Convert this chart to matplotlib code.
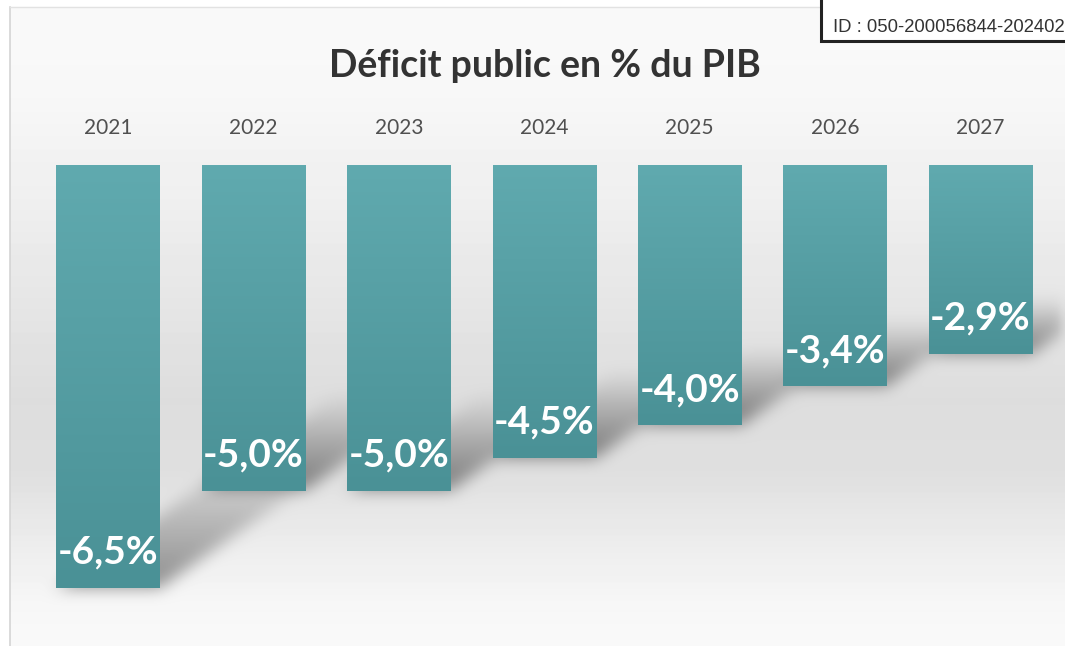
import numpy as np
import matplotlib
matplotlib.use("Agg")
import matplotlib.pyplot as plt
from matplotlib.patches import Rectangle
from matplotlib.lines import Line2D

years = ["2021", "2022", "2023", "2024", "2025", "2026", "2027"]
deficit = [-6.5, -5.0, -5.0, -4.5, -4.0, -3.4, -2.9]
labels = ["-6,5%", "-5,0%", "-5,0%", "-4,5%", "-4,0%", "-3,4%", "-2,9%"]
title = "Déficit public en % du PIB"
doc_id = "ID : 050-200056844-202402"

W, H = 1065, 646
bar_w = 0.71
font = ["Lato", "DejaVu Sans"]

fig = plt.figure(figsize=(W / 100, H / 100), dpi=100)
ax = fig.add_axes([0, 0, 1, 1])

# axes fill the figure: one category = 145.4 px, one percent point = 65.1 px
x0_px, step_px = 108, 145.4
y0_px, unit_px = 165, 65.1
xlim = (-x0_px / step_px, (W - x0_px) / step_px)
ylim = (-(H - y0_px) / unit_px, y0_px / unit_px)
ax.set_xlim(*xlim)
ax.set_ylim(*ylim)
ax.axis("off")

# background: soft grey band behind the bars
rows = np.arange(H)
bg = np.interp(rows, [0, 100, 200, 300, 400, 470, 540, 600, 646],
               [250, 247, 239, 230, 221, 223, 236, 246, 250]) / 255.0
img = np.repeat(bg[:, None], W, axis=1)

# slanted shadow cast by every bar, then blurred
gx = np.linspace(xlim[0], xlim[1], W)
gy = np.linspace(ylim[1], ylim[0], H)
GX, GY = np.meshgrid(gx, gy)
shade = np.zeros((H, W))
for i, v in enumerate(deficit):
    dy = 0.30 * abs(v)
    dx = 0.19 * abs(v)
    t = (GY - v) / dy
    xs = GX - t * dx
    inside = (t >= 0) & (t <= 1) & (xs >= i - bar_w / 2) & (xs <= i + bar_w / 2)
    shade = np.maximum(shade, np.where(inside, 1 - t, 0.0))


def box_blur(a, r):
    k = np.ones(2 * r + 1) / (2 * r + 1)
    a = np.apply_along_axis(lambda m: np.convolve(m, k, mode="same"), 1, a)
    return np.apply_along_axis(lambda m: np.convolve(m, k, mode="same"), 0, a)


for _ in range(3):
    shade = box_blur(shade, 7)
img = np.clip(img - 0.40 * shade, 0, 1)
img[:, :10] = 1.0
img[:7, :] = 1.0
ax.imshow(img, cmap="gray", vmin=0, vmax=1, aspect="auto",
          extent=(xlim[0], xlim[1], ylim[0], ylim[1]), zorder=0,
          interpolation="bilinear")

# bars with a vertical teal gradient
bars = ax.bar(range(len(deficit)), deficit, width=bar_w, color="#55a0a5",
              linewidth=0, zorder=2)
grad = np.linspace(0, 1, 256)[:, None]
cmap = matplotlib.colors.LinearSegmentedColormap.from_list(
    "teal", ["#60aaaf", "#4a9196"])
for b in bars:
    x, w, h = b.get_x(), b.get_width(), b.get_height()
    im = ax.imshow(grad, cmap=cmap, aspect="auto", zorder=3,
                   extent=(x, x + w, h, 0))
    im.set_clip_path(b)

for i, (v, lab) in enumerate(zip(deficit, labels)):
    ax.text(i, v + 0.55, lab, ha="center", va="center", color="white",
            fontsize=28, fontweight="bold", family=font, zorder=4)
    ax.text(i, 0.57, years[i], ha="center", va="center", color="#505050",
            fontsize=15, family=font, zorder=4)

fig.text(545 / W, 1 - 66 / H, title, ha="center", va="center",
         fontsize=27, fontweight="bold", color="#333333", family=font)

# frame of the picture
fig.add_artist(Line2D([10 / W, 10 / W], [0, 1 - 7 / H], color="#d4d4d4",
                      lw=1.2, transform=fig.transFigure))
fig.add_artist(Line2D([10 / W, 1], [1 - 7 / H, 1 - 7 / H], color="#e2e2e2",
                      lw=1.0, transform=fig.transFigure))

# stamp box in the corner
fig.add_artist(Rectangle((821 / W, 1 - 41 / H), 260 / W, 50 / H,
                         transform=fig.transFigure, facecolor="white",
                         edgecolor="#222222", lw=2.2, zorder=5))
fig.text(833 / W, 1 - 27 / H, doc_id, ha="left", va="center", fontsize=13.3,
         color="#333333", family=["Liberation Sans", "DejaVu Sans"], zorder=6)

fig.savefig("out.png", dpi=100)
